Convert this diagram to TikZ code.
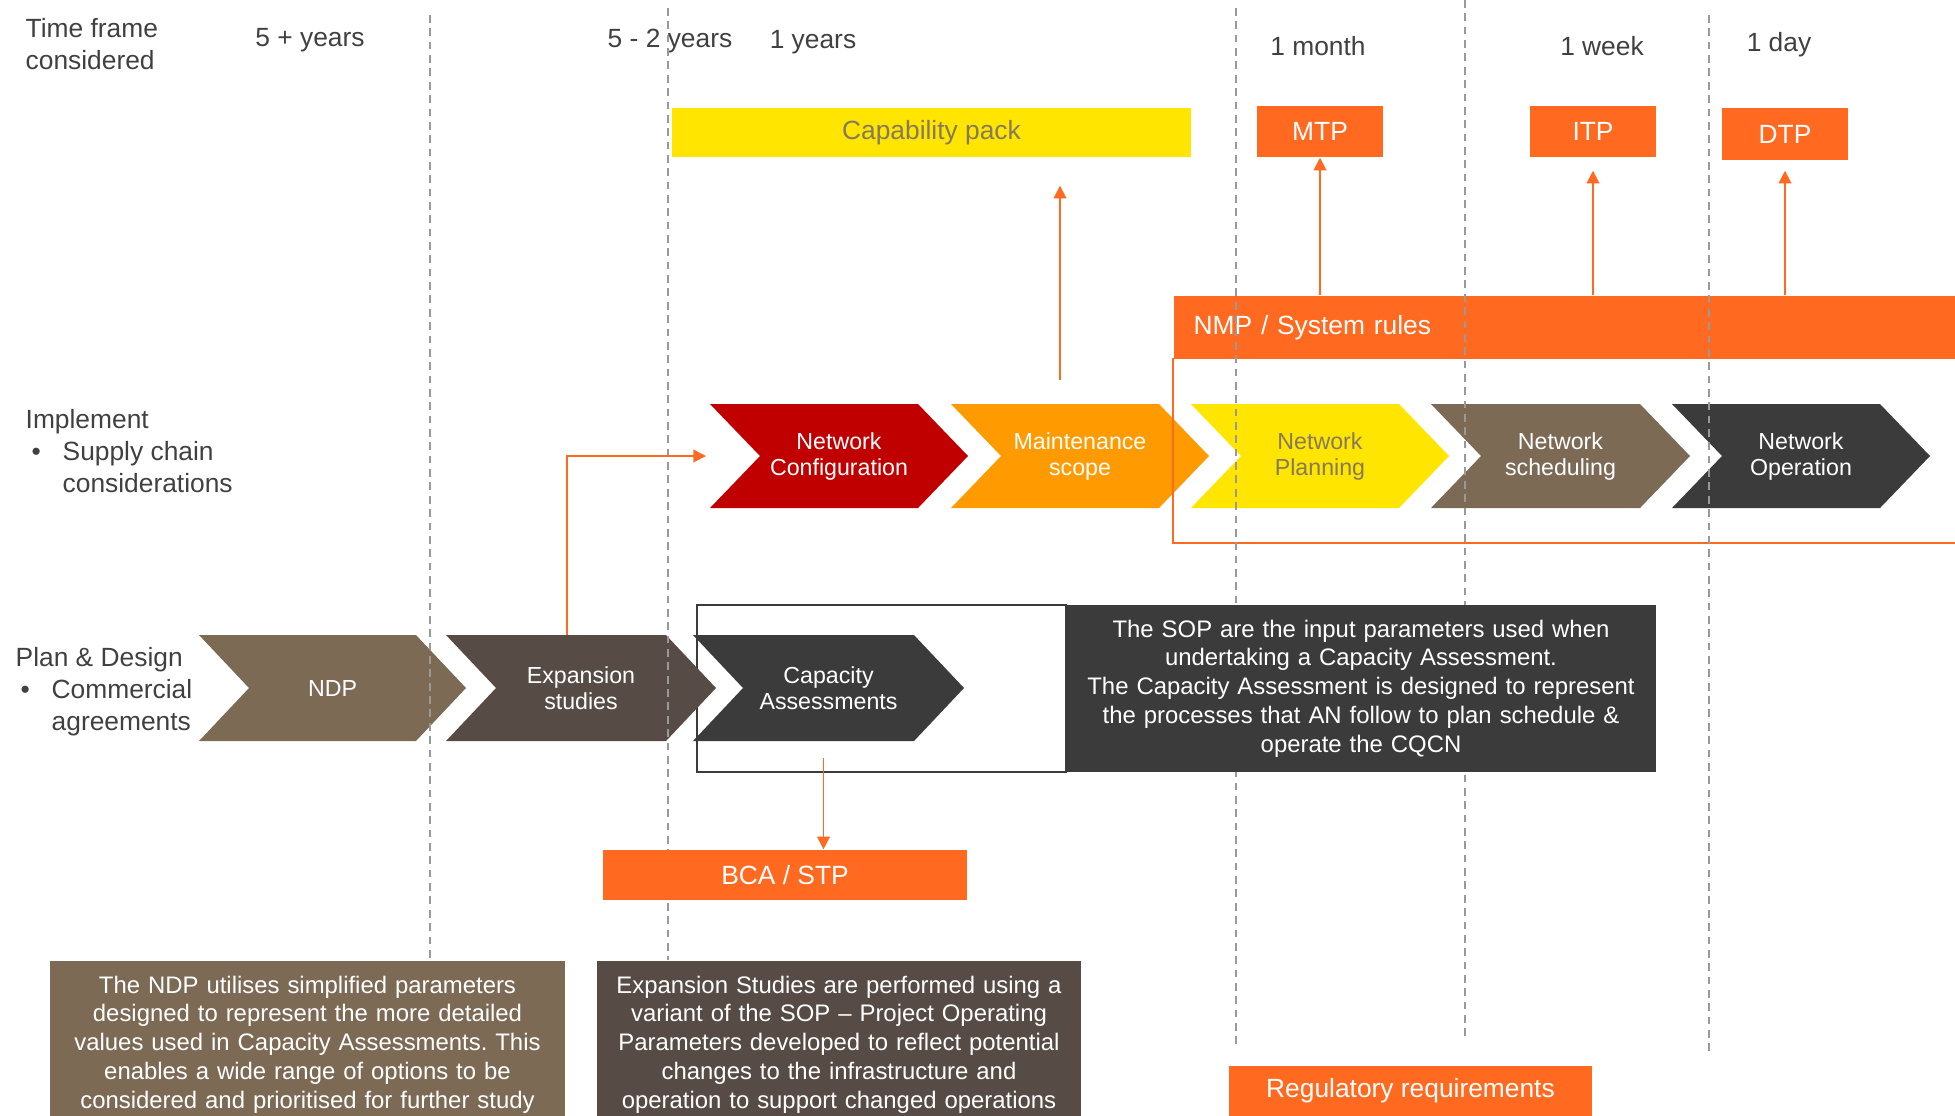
\documentclass[tikz,border=0pt]{standalone}
\usepackage{fontspec}
\setmainfont{Liberation Sans}
\usepackage{xcolor}
\usetikzlibrary{arrows.meta}
\frenchspacing
\definecolor{accent}{HTML}{FF6A20}
\definecolor{capyellow}{HTML}{FFE500}
\definecolor{netred}{HTML}{C00000}
\definecolor{amber}{HTML}{FF9A00}
\definecolor{brownlt}{HTML}{7D6A55}
\definecolor{browndk}{HTML}{574B45}
\definecolor{darkgrey}{HTML}{3B3B3B}
\definecolor{olivetext}{HTML}{857A5C}
\definecolor{textgrey}{HTML}{404040}

\tikzset{
  hdr/.style={font=\fontsize{7.5}{9.1}\selectfont, text=textgrey, inner sep=0pt},
  tagbox/.style={font=\fontsize{7.5}{9}\selectfont, text=white, inner sep=0pt},
  chevlabel/.style={font=\fontsize{6.6}{7.4}\selectfont, align=center, inner sep=0pt},
  notebox/.style={font=\fontsize{6.8}{8.2}\selectfont, text=white, align=center,
                  anchor=north, inner xsep=1mm, inner ysep=1.5mm},
  guide/.style={draw=gray!80, line width=0.45pt, dash pattern=on 2.2pt off 1.6pt},
  arr/.style={draw=accent, line width=0.5pt, -{Triangle[width=3.6pt,length=3.6pt]}}
}

\newcommand{\chevronstep}[8]{%
  \fill[#6] (#2,#3) -- (#2+#4-50,#3) -- (#2+#4,#3+#5/2) -- (#2+#4-50,#3+#5)
            -- (#2,#3+#5) -- (#2+50,#3+#5/2) -- cycle;
  \coordinate (#1-n) at (#2+#4/2-25,#3);
  \coordinate (#1-s) at (#2+#4/2-25,#3+#5);
  \coordinate (#1-w) at (#2,#3+#5/2);
  \node[chevlabel, text=#7] (#1) at (#2+#4/2,#3+#5/2) {#8};
}

\begin{document}
\begin{tikzpicture}[x=0.1mm, y=-0.1mm]
    \useasboundingbox (0,0) rectangle (1955,1115);
    \clip (0,0) rectangle (1955,1115);

    \node[hdr, anchor=west, align=left] (tf) at (25,44) {Time  frame\\considered};
    \node[hdr] (y5)  at (310,40)  {5 + years};
    \node[hdr] (y52) at (670,41)  {5 - 2 years};
    \node[hdr] (y1)  at (813,42)  {1 years};
    \node[hdr] (m1)  at (1318,46) {1 month};
    \node[hdr] (w1)  at (1602,46) {1 week};
    \node[hdr] (d1)  at (1779,45) {1 day};

    \node[tagbox, fill=capyellow, text=olivetext, minimum width=51.9mm, minimum height=4.9mm] (cap) at (931.5,132.5) {Capability pack};
    \node[tagbox, fill=accent, minimum width=12.6mm, minimum height=5.1mm] (mtp) at (1320,131.5) {MTP};
    \node[tagbox, fill=accent, minimum width=12.6mm, minimum height=5.1mm] (itp) at (1593,131.5) {ITP};
    \node[tagbox, fill=accent, minimum width=12.6mm, minimum height=5.2mm] (dtp) at (1785,134) {DTP};

    \node[hdr, anchor=west, align=left] (impl) at (25,451) {Implement\\\makebox[3.7mm][l]{\hspace{0.6mm}\textbullet}Supply chain\\\hspace*{3.7mm}considerations};
    \node[hdr, anchor=west, align=left] (plan) at (15,692) {Plan \& Design\\\makebox[3.6mm][l]{\hspace{0.5mm}\textbullet}Commercial\\\hspace*{3.6mm}agreements};

    \node[tagbox, fill=accent, anchor=north west, minimum width=80mm, minimum height=6.3mm,
          text width=76mm, inner xsep=2mm, align=left] (nmp) at (1173,295) {NMP  / System rules};
    \draw[accent, line width=0.6pt] (1173,358) -- (1173,543) -- (1970,543);

    \chevronstep{nc}{710}{404}{258}{104}{netred}{white}{Network\\Configuration}
    \chevronstep{ms}{951}{404}{258}{104}{amber}{white}{Maintenance\\scope}
    \chevronstep{np}{1191}{404}{258}{104}{capyellow}{olivetext}{Network\\Planning}
    \chevronstep{ns}{1431}{404}{259}{104}{brownlt}{white}{Network\\scheduling}
    \chevronstep{no}{1672}{404}{258}{104}{darkgrey}{white}{Network\\Operation}
    \draw[accent, line width=0.6pt] (1173,400) -- (1173,512);

    \draw[darkgrey, line width=0.8pt] (697,605) rectangle (1066,772);
    \chevronstep{ndp}{199}{635}{267}{106}{brownlt}{white}{NDP}
    \chevronstep{exp}{446}{635}{270}{106}{browndk}{white}{Expansion\\studies}
    \chevronstep{ca}{693}{635}{271}{106}{darkgrey}{white}{Capacity\\Assessments}

    \draw[guide] (430,15) -- (430,960);
    \draw[guide] (668,8) -- (668,960);
    \draw[guide] (1236,8) -- (1236,1045);
    \draw[guide] (1465,0) -- (1465,1037);
    \draw[guide] (1709,15) -- (1709,1051);

    \node[fill=darkgrey, text=white, font=\fontsize{6.8}{8.2}\selectfont, align=center,
          minimum width=59mm, minimum height=16.7mm, text width=57mm, inner xsep=1mm] (sop) at (1361,688.5)
          {The SOP are the input parameters used when\\undertaking  a Capacity Assessment.\\The Capacity Assessment is designed to represent\\the processes that AN follow to plan schedule \&\\operate the CQCN};

    \node[tagbox, fill=accent, minimum width=36.4mm, minimum height=5mm] (bca) at (785,875) {BCA / STP};
    \node[tagbox, fill=accent, minimum width=36.3mm, minimum height=5mm] (reg) at (1410.5,1091) {Regulatory  requirements};

    \node[notebox, fill=brownlt, text width=49.5mm] (ndpnote) at (307.5,960)
          {The NDP utilises simplified parameters\\designed to represent the more detailed\\values used in Capacity Assessments. This\\enables a wide range of options to be\\considered and prioritised for further study};
    \node[notebox, fill=browndk, text width=46.4mm] (expnote) at (839,960)
          {Expansion Studies are performed using a\\variant of the SOP -- Project Operating\\Parameters developed to reflect potential\\changes to the infrastructure and\\operation to support changed operations};

    \draw[arr, shorten <=2.4mm, shorten >=2.8mm] ([xshift=0.5mm]ms-n) -- ([xshift=0.5mm]ms-n |- cap.south);
    \draw[arr] (mtp.south |- nmp.north) -- (mtp.south);
    \draw[arr, shorten >=1.3mm] (itp.south |- nmp.north) -- (itp.south);
    \draw[arr, shorten >=1mm] (dtp.south |- nmp.north) -- (dtp.south);
    \draw[arr] ([xshift=1.1mm]exp-n) |- ([xshift=-0.4mm]nc-w);
    \draw[arr, shorten <=1.7mm] ([xshift=2mm]ca-s) -- ([xshift=2mm]ca-s |- bca.north);
  \end{tikzpicture}
\end{document}
